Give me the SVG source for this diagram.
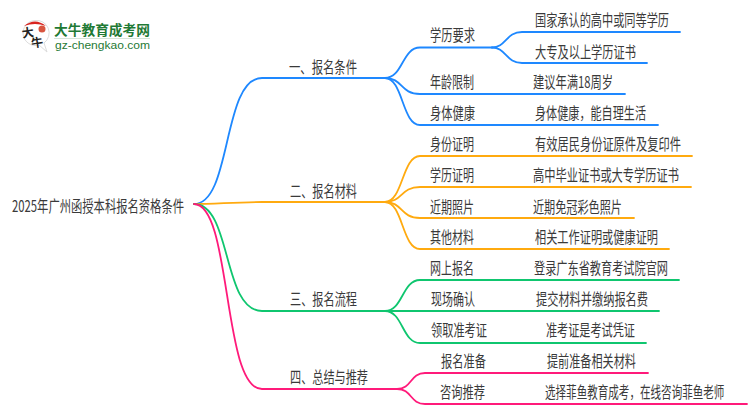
<svg xmlns="http://www.w3.org/2000/svg" width="750" height="410" viewBox="0 0 750 410">
<style>
text{font-family:"Noto Sans CJK SC","Noto Sans",sans-serif;font-size:16px;fill:#3a3a3a}
.c{fill:none;stroke-width:1.800;stroke-linecap:round}
.b{stroke:#1e88ff}.o{stroke:#ffaa0f}.g{stroke:#0fc66f}.p{stroke:#ff1a7a}
.lg{fill:#1f7a35;font-weight:700}
</style>
<rect width="750" height="410" fill="#fff"/>
<g id="logo">
<path d="M35,20.500A12.500,12.500 0 1 0 39,45L47,52L44,43A12.500,12.500 0 0 0 35,20.500Z" fill="#fff" stroke="#ddd" stroke-width="1"/>
<path d="M24,26Q35,17 46,26Q35,22 24,26Z" fill="#d8231f"/>
<circle cx="42" cy="29" r="3.500" fill="#d8553f"/>
<text x="22" y="37" textLength="12" lengthAdjust="spacingAndGlyphs" transform="rotate(-8 28 33)" style="font-size:12px;fill:#222;font-weight:700">大</text>
<text x="31" y="47" textLength="12" lengthAdjust="spacingAndGlyphs" transform="rotate(-8 37 42)" style="font-size:12px;fill:#222;font-weight:700">牛</text>
<text class="lg" x="54" y="35" textLength="96" lengthAdjust="spacingAndGlyphs" style="font-size:13.500px;fill:#1f7a35">大牛教育成考网</text>
<rect x="54" y="38" width="96" height="1" fill="#d5e5d8"/>
<text x="55" y="49" textLength="95" lengthAdjust="spacingAndGlyphs" style="font-family:'Liberation Sans',sans-serif;font-size:11px;fill:#1f7a35">gz-chengkao.com</text>
</g>
<g id="connectors">
<path class="c b" d="M194,204C232,204 222,78 262,78H385"/>
<path class="c o" d="M194,204C215,204 235,202 262,202H385"/>
<path class="c g" d="M194,204C232,204 222,311 262,311H385"/>
<path class="c p" d="M194,204C232,204 222,389 262,389H397"/>
<path class="c b" d="M385,78C403,78 402,47.500 420,47.500H492"/>
<path class="c b" d="M385,78C403,78 400,94 420,94H625"/>
<path class="c b" d="M385,78C403,78 402,125 420,125H658"/>
<path class="c b" d="M492,47.500C506,47.500 506,32 522,32H680"/>
<path class="c b" d="M492,47.500C506,47.500 506,63 522,63H647"/>
<path class="c o" d="M385,202C403,202 402,156 420,156H692"/>
<path class="c o" d="M385,202C403,202 400,187 420,187H691"/>
<path class="c o" d="M385,202C403,202 400,218 420,218H634"/>
<path class="c o" d="M385,202C403,202 402,249 420,249H669"/>
<path class="c g" d="M385,311C403,311 402,280 420,280H679"/>
<path class="c g" d="M385,311H659"/>
<path class="c g" d="M385,311C403,311 402,343 420,343H646"/>
<path class="c p" d="M397,389C412,389 410,373 425,373H648"/>
<path class="c p" d="M397,389C412,389 410,404 425,404H747"/>
</g>
<g id="root"><text x="12" y="212" textLength="172" lengthAdjust="spacingAndGlyphs">2025年广州函授本科报名资格条件</text></g>
<g id="n1"><text x="289" y="72.500" textLength="68" lengthAdjust="spacingAndGlyphs">一、报名条件</text></g>
<g id="n2"><text x="290" y="196.500" textLength="67" lengthAdjust="spacingAndGlyphs">二、报名材料</text></g>
<g id="n3"><text x="290" y="304.500" textLength="67" lengthAdjust="spacingAndGlyphs">三、报名流程</text></g>
<g id="n4"><text x="290" y="382.500" textLength="78" lengthAdjust="spacingAndGlyphs">四、总结与推荐</text></g>
<g id="n11"><text x="430" y="40.500" textLength="45" lengthAdjust="spacingAndGlyphs">学历要求</text></g>
<g id="n12"><text x="430" y="87.500" textLength="44" lengthAdjust="spacingAndGlyphs">年龄限制</text></g>
<g id="n13"><text x="430" y="118.500" textLength="45" lengthAdjust="spacingAndGlyphs">身体健康</text></g>
<g id="n21"><text x="430" y="149.500" textLength="44" lengthAdjust="spacingAndGlyphs">身份证明</text></g>
<g id="n22"><text x="430" y="180.500" textLength="44" lengthAdjust="spacingAndGlyphs">学历证明</text></g>
<g id="n23"><text x="430" y="212.500" textLength="44" lengthAdjust="spacingAndGlyphs">近期照片</text></g>
<g id="n24"><text x="430" y="242.500" textLength="44" lengthAdjust="spacingAndGlyphs">其他材料</text></g>
<g id="n31"><text x="430" y="273.500" textLength="44" lengthAdjust="spacingAndGlyphs">网上报名</text></g>
<g id="n32"><text x="431" y="304.500" textLength="44" lengthAdjust="spacingAndGlyphs">现场确认</text></g>
<g id="n33"><text x="431" y="335.500" textLength="56" lengthAdjust="spacingAndGlyphs">领取准考证</text></g>
<g id="n41"><text x="441" y="366.500" textLength="45" lengthAdjust="spacingAndGlyphs">报名准备</text></g>
<g id="n42"><text x="440" y="397.500" textLength="45" lengthAdjust="spacingAndGlyphs">咨询推荐</text></g>
<g id="n111"><text x="535" y="25.500" textLength="134" lengthAdjust="spacingAndGlyphs">国家承认的高中或同等学历</text></g>
<g id="n112"><text x="535" y="57.500" textLength="101" lengthAdjust="spacingAndGlyphs">大专及以上学历证书</text></g>
<g id="n121"><text x="533" y="87.500" textLength="80" lengthAdjust="spacingAndGlyphs">建议年满18周岁</text></g>
<g id="n131"><text x="535" y="118.500" textLength="111" lengthAdjust="spacingAndGlyphs">身体健康，能自理生活</text></g>
<g id="n211"><text x="535" y="149.500" textLength="146" lengthAdjust="spacingAndGlyphs">有效居民身份证原件及复印件</text></g>
<g id="n221"><text x="533" y="180.500" textLength="146" lengthAdjust="spacingAndGlyphs">高中毕业证书或大专学历证书</text></g>
<g id="n231"><text x="533" y="212.500" textLength="89" lengthAdjust="spacingAndGlyphs">近期免冠彩色照片</text></g>
<g id="n241"><text x="535" y="242.500" textLength="123" lengthAdjust="spacingAndGlyphs">相关工作证明或健康证明</text></g>
<g id="n311"><text x="534" y="273.500" textLength="134" lengthAdjust="spacingAndGlyphs">登录广东省教育考试院官网</text></g>
<g id="n321"><text x="536" y="304.500" textLength="112" lengthAdjust="spacingAndGlyphs">提交材料并缴纳报名费</text></g>
<g id="n331"><text x="546" y="335.500" textLength="89" lengthAdjust="spacingAndGlyphs">准考证是考试凭证</text></g>
<g id="n411"><text x="547" y="366.500" textLength="89" lengthAdjust="spacingAndGlyphs">提前准备相关材料</text></g>
<g id="n421"><text transform="translate(545 397.500) scale(.66 1)">选择菲鱼教育成考，在线咨询菲鱼老师</text></g>
</svg>
